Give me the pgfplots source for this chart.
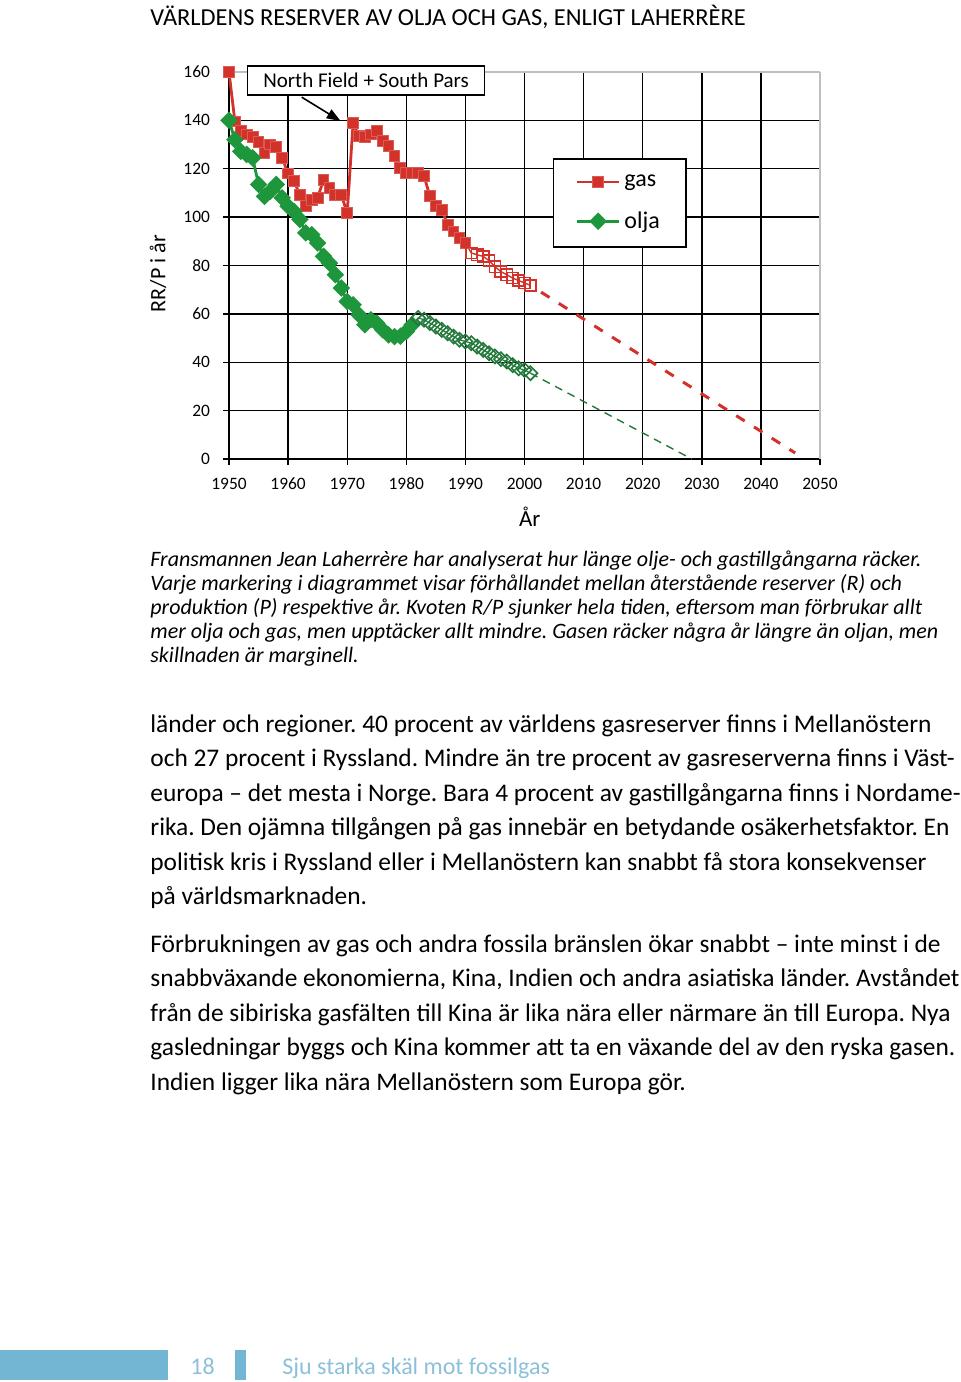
\documentclass[border=0pt]{standalone}
\usepackage{fontspec}
\setmainfont{Carlito}
\usepackage{pgfplots}
\pgfplotsset{compat=1.18}
\usetikzlibrary{arrows.meta}
\definecolor{gasred}{RGB}{210,50,42}
\definecolor{oilgreen}{RGB}{30,150,60}
\definecolor{oildark}{RGB}{35,120,60}
\definecolor{footblue}{RGB}{115,182,212}
\definecolor{foottext}{RGB}{140,192,218}
\frenchspacing
\begin{document}
\begin{tikzpicture}
\path[use as bounding box] (0,0) rectangle (480pt,-691pt);
\node[anchor=base west, inner sep=0, font=\fontsize{12.2}{14}\selectfont] at (75pt,-12.5pt) {VÄRLDENS RESERVER AV OLJA OCH GAS, ENLIGT LAHERRÈRE};
\begin{axis}[
  at={(114.5pt,-229.5pt)}, anchor=south west,
  scale only axis, width=295.5pt, height=193.5pt,
  xmin=1950, xmax=2050, ymin=0, ymax=160,
  clip=false,
  axis x line*=bottom, axis y line*=left,
  axis line style={black, line width=0.9pt},
  xtick={1950,1960,...,2040}, ytick={0,20,...,140},
  extra x ticks={2050}, extra y ticks={160},
  extra tick style={major grid style={gray!50, line width=0.9pt}},
  grid=major, major grid style={black, line width=0.7pt},
  tick align=outside, major tick length=3pt,
  tick style={black, line width=0.7pt},
  scaled x ticks=false, scaled y ticks=false,
  /pgf/number format/assume math mode=true,
  /pgf/number format/1000 sep={},
  xticklabel style={font=\fontsize{8.7}{10}\selectfont, yshift=-3pt},
  yticklabel style={font=\fontsize{8.7}{10}\selectfont, xshift=-3pt},
  xlabel={År}, xlabel style={at={(axis description cs:0.509,-0.15)}, anchor=center, font=\fontsize{11.5}{13}\selectfont},
  ylabel={RR/P i år}, ylabel style={at={(axis description cs:-0.12,0.479)}, anchor=center, font=\fontsize{11}{12}\selectfont},
  legend style={at={(axis description cs:0.548,0.778)}, anchor=north west, draw=black, line width=0.8pt, fill=white,
    font=\fontsize{12}{13}\selectfont, inner xsep=11pt, inner ysep=6pt, row sep=7pt, cells={anchor=west}},
  legend image code/.code={\draw[mark repeat=2,mark phase=2,#1] plot coordinates {(0pt,0pt) (10.5pt,0pt) (21pt,0pt)};},
]
\addplot[gasred, line width=1.4pt, mark=square*, mark size=2.7pt, mark options={fill=gasred, draw=gasred!80!white, line width=0.5pt, solid}] coordinates {
(1950,160) (1951,139.5) (1952,135.5) (1953,134.2) (1954,133) (1955,131) (1956,126.5) (1957,130) (1958,129) (1959,124.5)
(1960,118) (1961,114.8) (1962,109.3) (1963,104.5) (1964,107) (1965,108) (1966,115.5) (1967,112.1) (1968,109.3) (1969,109.3)
(1970,101.7) (1971,139) (1972,133.5) (1973,133) (1974,134.2) (1975,135.5) (1976,131.4) (1977,129.3) (1978,125.2) (1979,120.4)
(1980,118.3) (1981,118.3) (1982,118.3) (1983,117) (1984,108.6) (1985,104.5) (1986,103.1) (1987,96.9) (1988,94.1) (1989,91.4) (1990,89.3)
};
\addlegendentry{gas}
\addplot[gasred, line width=0.7pt, mark=square, mark size=2.8pt, mark phase=2, mark options={fill=white, line width=0.8pt, solid}, forget plot] coordinates {
(1990,89.3) (1991,85.2) (1992,84.4) (1993,83.8) (1994,82) (1995,79.5) (1996,77.5) (1997,76.2) (1998,74.8) (1999,73.8) (2000,72.8) (2001,71.8)
};
\addplot[oilgreen, line width=1.4pt, mark=square*, mark size=2.4pt, mark options={rotate=45, fill=oilgreen, solid}] coordinates {
(1950,140) (1951,132) (1952,127.2) (1953,125.9) (1954,124.5) (1955,113.5) (1956,108.6) (1957,110.7) (1958,113.5) (1959,108)
(1960,104.5) (1961,102.4) (1962,99) (1963,93.5) (1964,92.8) (1965,89.3) (1966,83.8) (1967,81) (1968,76.2) (1969,70.7)
(1970,65.1) (1971,63.8) (1972,59.6) (1973,55.5) (1974,57.6) (1975,56.2) (1976,53.4) (1977,51.3) (1978,50.6) (1979,50.8)
(1980,52.7) (1981,55.5)
};
\addlegendentry{olja}
\addplot[oildark, line width=0.6pt, mark=square, mark size=2.5pt, mark phase=2, mark options={rotate=45, fill=white, line width=0.8pt, solid}, forget plot] coordinates {
(1981,55.5) (1982,58.3) (1983,57.6) (1984,56.2) (1985,54.8) (1986,53.4) (1987,52) (1988,50.6) (1989,49.3) (1990,48.6) (1991,47.9)
(1992,46.5) (1993,45.1) (1994,43.7) (1995,42.4) (1996,41.3) (1997,40.3) (1998,38.8) (1999,37.5) (2000,36.8) (2001,35.5)
};
\addplot[gasred, line width=1.5pt, dash pattern=on 5pt off 5.5pt, forget plot] coordinates {(2002.8,69) (2045.8,2.5)};
\addplot[oildark, line width=0.7pt, dash pattern=on 4pt off 3pt, forget plot] coordinates {(2001,35.5) (2028.3,0)};
\node[draw=black, line width=0.8pt, fill=white, minimum width=118.5pt, minimum height=14.5pt, inner sep=0pt, font=\fontsize{10.5}{12}\selectfont] at (axis cs:1973.2,156.5) {North Field + South Pars};
\draw[line width=0.8pt, -{Triangle[length=7pt,width=5pt]}] (axis cs:1962.3,149.6) -- (axis cs:1968.9,139.7);
\end{axis}
\begin{scope}[every node/.style={anchor=base west, inner sep=0pt, font=\fontsize{11}{12}\selectfont\itshape}]
\node at (75pt,-283pt) {Fransmannen Jean Laherrère har analyserat hur länge olje- och gastillgångarna räcker.};
\node at (75pt,-295pt) {Varje markering i diagrammet visar förhållandet mellan återstående reserver (R) och};
\node at (75pt,-307pt) {produktion (P) respektive år. Kvoten R/P sjunker hela tiden, eftersom man förbrukar allt};
\node at (75pt,-319pt) {mer olja och gas, men upptäcker allt mindre. Gasen räcker några år längre än oljan, men};
\node at (75pt,-331pt) {skillnaden är marginell.};
\end{scope}
\begin{scope}[every node/.style={anchor=base west, inner sep=0pt, font=\fontsize{12.7}{14}\selectfont}]
\node at (75pt,-366pt) {länder och regioner. 40 procent av världens gasreserver finns i Mellanöstern};
\node at (75pt,-383.25pt) {och 27 procent i Ryssland. Mindre än tre procent av gasreserverna finns i Väst-};
\node at (75pt,-400.5pt) {europa – det mesta i Norge. Bara 4 procent av gastillgångarna finns i Nordame-};
\node at (75pt,-417.75pt) {rika. Den ojämna tillgången på gas innebär en betydande osäkerhetsfaktor. En};
\node at (75pt,-435pt) {politisk kris i Ryssland eller i Mellanöstern kan snabbt få stora konsekvenser};
\node at (75pt,-452.25pt) {på världsmarknaden.};
\node at (75pt,-476pt) {Förbrukningen av gas och andra fossila bränslen ökar snabbt – inte minst i de};
\node at (75pt,-493.25pt) {snabbväxande ekonomierna, Kina, Indien och andra asiatiska länder. Avståndet};
\node at (75pt,-510.5pt) {från de sibiriska gasfälten till Kina är lika nära eller närmare än till Europa. Nya};
\node at (75pt,-527.75pt) {gasledningar byggs och Kina kommer att ta en växande del av den ryska gasen.};
\node at (75pt,-545pt) {Indien ligger lika nära Mellanöstern som Europa gör.};
\end{scope}
\fill[footblue] (0pt,-675pt) rectangle (84pt,-690pt);
\fill[footblue] (117.5pt,-675pt) rectangle (123pt,-690pt);
\node[anchor=base west, inner sep=0pt, text=foottext, font=\fontsize{12}{13}\selectfont] at (95pt,-687pt) {18};
\node[anchor=base west, inner sep=0pt, text=foottext, font=\fontsize{12}{13}\selectfont] at (141pt,-687pt) {Sju starka skäl mot fossilgas};
\end{tikzpicture}
\end{document}
